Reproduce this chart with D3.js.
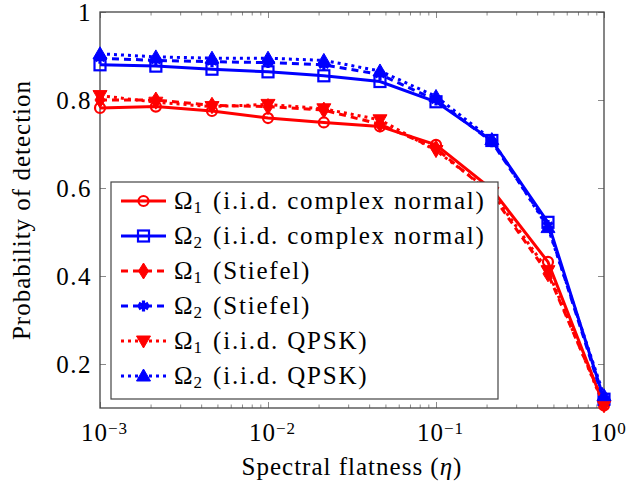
<!DOCTYPE html>
<html>
<head>
<meta charset="utf-8">
<script src="https://cdn.jsdelivr.net/npm/d3@7"></script>
<style>
body { margin: 0; background: #fff; }
</style>
</head>
<body>
<script>
var w = 632;
var h = 485;

var eta = [0.001, 0.00215, 0.00464, 0.01, 0.0215, 0.0464, 0.1, 0.215, 0.464, 1];
var o1Normal = [0.782, 0.785, 0.775, 0.759, 0.749, 0.740, 0.698, 0.597, 0.432, 0.106];
var o2Normal = [0.880, 0.877, 0.870, 0.864, 0.855, 0.842, 0.796, 0.708, 0.522, 0.120];
var o1Stiefel = [0.800, 0.800, 0.788, 0.785, 0.777, 0.745, 0.690, 0.585, 0.405, 0.110];
var o2Stiefel = [0.895, 0.890, 0.887, 0.885, 0.880, 0.858, 0.800, 0.705, 0.515, 0.115];
var o1Qpsk = [0.810, 0.795, 0.785, 0.790, 0.780, 0.755, 0.685, 0.590, 0.412, 0.105];
var o2Qpsk = [0.905, 0.898, 0.895, 0.895, 0.890, 0.866, 0.808, 0.710, 0.510, 0.128];

var seriesNames = ["(i.i.d. complex normal)", "(i.i.d. complex normal)", "(Stiefel)", "(Stiefel)", "(i.i.d. QPSK)", "(i.i.d. QPSK)"];
var seriesSub = ["1", "2", "1", "2", "1", "2"];
var xTicks = [0.001, 0.01, 0.1, 1];
var xTickExp = ["\u22123", "\u22122", "\u22121", "0"];
var yTicks = [0.2, 0.4, 0.6, 0.8, 1];

var series = [
  { v: o1Normal, color: "#ff0000", dash: null, mark: "circle" },
  { v: o2Normal, color: "#0000ff", dash: null, mark: "square" },
  { v: o1Stiefel, color: "#ff0000", dash: "7,5", mark: "diamond" },
  { v: o2Stiefel, color: "#0000ff", dash: "7,5", mark: "asterisk" },
  { v: o1Qpsk, color: "#ff0000", dash: "3,4", mark: "tridown" },
  { v: o2Qpsk, color: "#0000ff", dash: "3,4", mark: "triup" }
];

var pLeft = 100, pRight = 604, pTop = 12, pBottom = 408;
var serif = "'Liberation Serif', 'Times New Roman', serif";

var x = d3.scaleLog().domain([0.001, 1]).range([pLeft, pRight]);
var y = d3.scaleLinear().domain([0.1, 1]).range([pBottom, pTop]);

var svg = d3.select("body").append("svg").attr("width", w).attr("height", h);

// minor ticks
var minor = [];
[0.001, 0.01, 0.1].forEach(function (d) {
  for (var k = 2; k <= 9; k++) minor.push(d * k);
});

function styleAxis(g) {
  g.select(".domain").remove();
  g.selectAll(".tick line").attr("stroke", "#8a8a8a").attr("stroke-width", 1);
}

svg.append("g").attr("transform", "translate(0," + pBottom + ")")
  .call(d3.axisBottom(x).tickValues(minor).tickSize(-3.5).tickFormat(""))
  .call(styleAxis);
svg.append("g").attr("transform", "translate(0," + pTop + ")")
  .call(d3.axisTop(x).tickValues(minor).tickSize(-3.5).tickFormat(""))
  .call(styleAxis);

var xb = svg.append("g").attr("transform", "translate(0," + pBottom + ")")
  .call(d3.axisBottom(x).tickValues(xTicks).tickSize(-6).tickPadding(12))
  .call(styleAxis);
xb.selectAll(".tick text").each(function (d, i) {
  var t = d3.select(this).text(null).attr("font-size", 25).attr("dy", "0.85em")
    .attr("letter-spacing", 1).attr("dx", 4);
  t.append("tspan").text("10");
  t.append("tspan").attr("dy", "-0.42em").attr("font-size", 17).text(xTickExp[i]);
});
svg.append("g").attr("transform", "translate(0," + pTop + ")")
  .call(d3.axisTop(x).tickValues(xTicks).tickSize(-6).tickFormat(""))
  .call(styleAxis);

svg.append("g").attr("transform", "translate(" + pLeft + ",0)")
  .call(d3.axisLeft(y).tickValues(yTicks).tickSize(-6).tickPadding(8).tickFormat(function (d) { return d === 1 ? "1" : d3.format(".1f")(d); }))
  .call(styleAxis)
  .selectAll(".tick text").attr("font-size", 25).attr("letter-spacing", 1.5);
svg.append("g").attr("transform", "translate(" + pRight + ",0)")
  .call(d3.axisRight(y).tickValues(yTicks).tickSize(-6).tickFormat(""))
  .call(styleAxis);

// frame
svg.append("rect")
  .attr("x", pLeft).attr("y", pTop)
  .attr("width", pRight - pLeft).attr("height", pBottom - pTop)
  .attr("fill", "none").attr("stroke", "#444").attr("stroke-width", 1.3);

var line = d3.line()
  .x(function (d, i) { return x(eta[i]); })
  .y(function (d) { return y(d); });

function drawMark(g, type, color, cx, cy) {
  if (type === "circle") {
    g.append("circle").attr("cx", cx).attr("cy", cy).attr("r", 5)
      .attr("fill", "none").attr("stroke", color).attr("stroke-width", 2.2);
  } else if (type === "square") {
    g.append("rect").attr("x", cx - 5.5).attr("y", cy - 5.5).attr("width", 11).attr("height", 11)
      .attr("fill", "none").attr("stroke", color).attr("stroke-width", 2.2);
  } else if (type === "diamond") {
    g.append("path").attr("transform", "translate(" + cx + "," + cy + ")")
      .attr("d", "M0,-8L5,0L0,8L-5,0Z").attr("fill", color).attr("stroke", color).attr("stroke-width", 1);
  } else if (type === "asterisk") {
    var p = "";
    for (var k = 0; k < 3; k++) {
      var a = Math.PI / 2 + k * Math.PI / 3;
      p += "M" + (5.5 * Math.cos(a)) + "," + (5.5 * Math.sin(a)) + "L" + (-5.5 * Math.cos(a)) + "," + (-5.5 * Math.sin(a));
    }
    g.append("path").attr("transform", "translate(" + cx + "," + cy + ")")
      .attr("d", p).attr("fill", "none").attr("stroke", color).attr("stroke-width", 3.2);
  } else if (type === "tridown") {
    g.append("path").attr("transform", "translate(" + cx + "," + cy + ")")
      .attr("d", "M-7,-5L7,-5L0,7Z").attr("fill", color).attr("stroke", color).attr("stroke-width", 1);
  } else if (type === "triup") {
    g.append("path").attr("transform", "translate(" + cx + "," + cy + ")")
      .attr("d", "M-7,5L7,5L0,-7Z").attr("fill", color).attr("stroke", color).attr("stroke-width", 1);
  }
}

var plot = svg.append("g");
series.forEach(function (s) {
  var g = plot.append("g");
  g.append("path").datum(s.v).attr("d", line)
    .attr("fill", "none").attr("stroke", s.color).attr("stroke-width", 3)
    .attr("stroke-dasharray", s.dash);
  s.v.forEach(function (d, i) {
    drawMark(g, s.mark, s.color, x(eta[i]), y(d));
  });
});

// legend
var leg = svg.append("g");
leg.append("rect").attr("x", 111).attr("y", 182).attr("width", 387).attr("height", 217)
  .attr("fill", "#fff").attr("stroke", "#444").attr("stroke-width", 1.2);
series.forEach(function (s, i) {
  var cy = 201 + i * 35;
  leg.append("line").attr("x1", 121).attr("x2", 166).attr("y1", cy).attr("y2", cy)
    .attr("stroke", s.color).attr("stroke-width", 3).attr("stroke-dasharray", s.dash);
  drawMark(leg, s.mark, s.color, 143.5, cy);
  var t = leg.append("text").attr("x", 174).attr("y", cy + 8).attr("font-size", 25);
  t.append("tspan").text("\u03a9");
  t.append("tspan").attr("font-size", 17).attr("dy", 4).attr("dx", 1).text(seriesSub[i]);
  t.append("tspan").attr("dy", -4).attr("dx", 11).attr("letter-spacing", 1.8).text(seriesNames[i]);
});

var xl = svg.append("text").attr("x", (pLeft + pRight) / 2).attr("y", 475)
  .attr("text-anchor", "middle").attr("font-size", 25).attr("letter-spacing", 1);
xl.append("tspan").text("Spectral flatness (");
xl.append("tspan").attr("font-style", "italic").text("\u03b7");
xl.append("tspan").text(")");

svg.append("text").attr("transform", "translate(30," + ((pTop + pBottom) / 2) + ") rotate(-90)")
  .attr("text-anchor", "middle").attr("font-size", 25).attr("letter-spacing", 1)
  .text("Probability of detection");

svg.selectAll("text").style("font-family", serif).attr("fill", "#000");
</script>
</body>
</html>
